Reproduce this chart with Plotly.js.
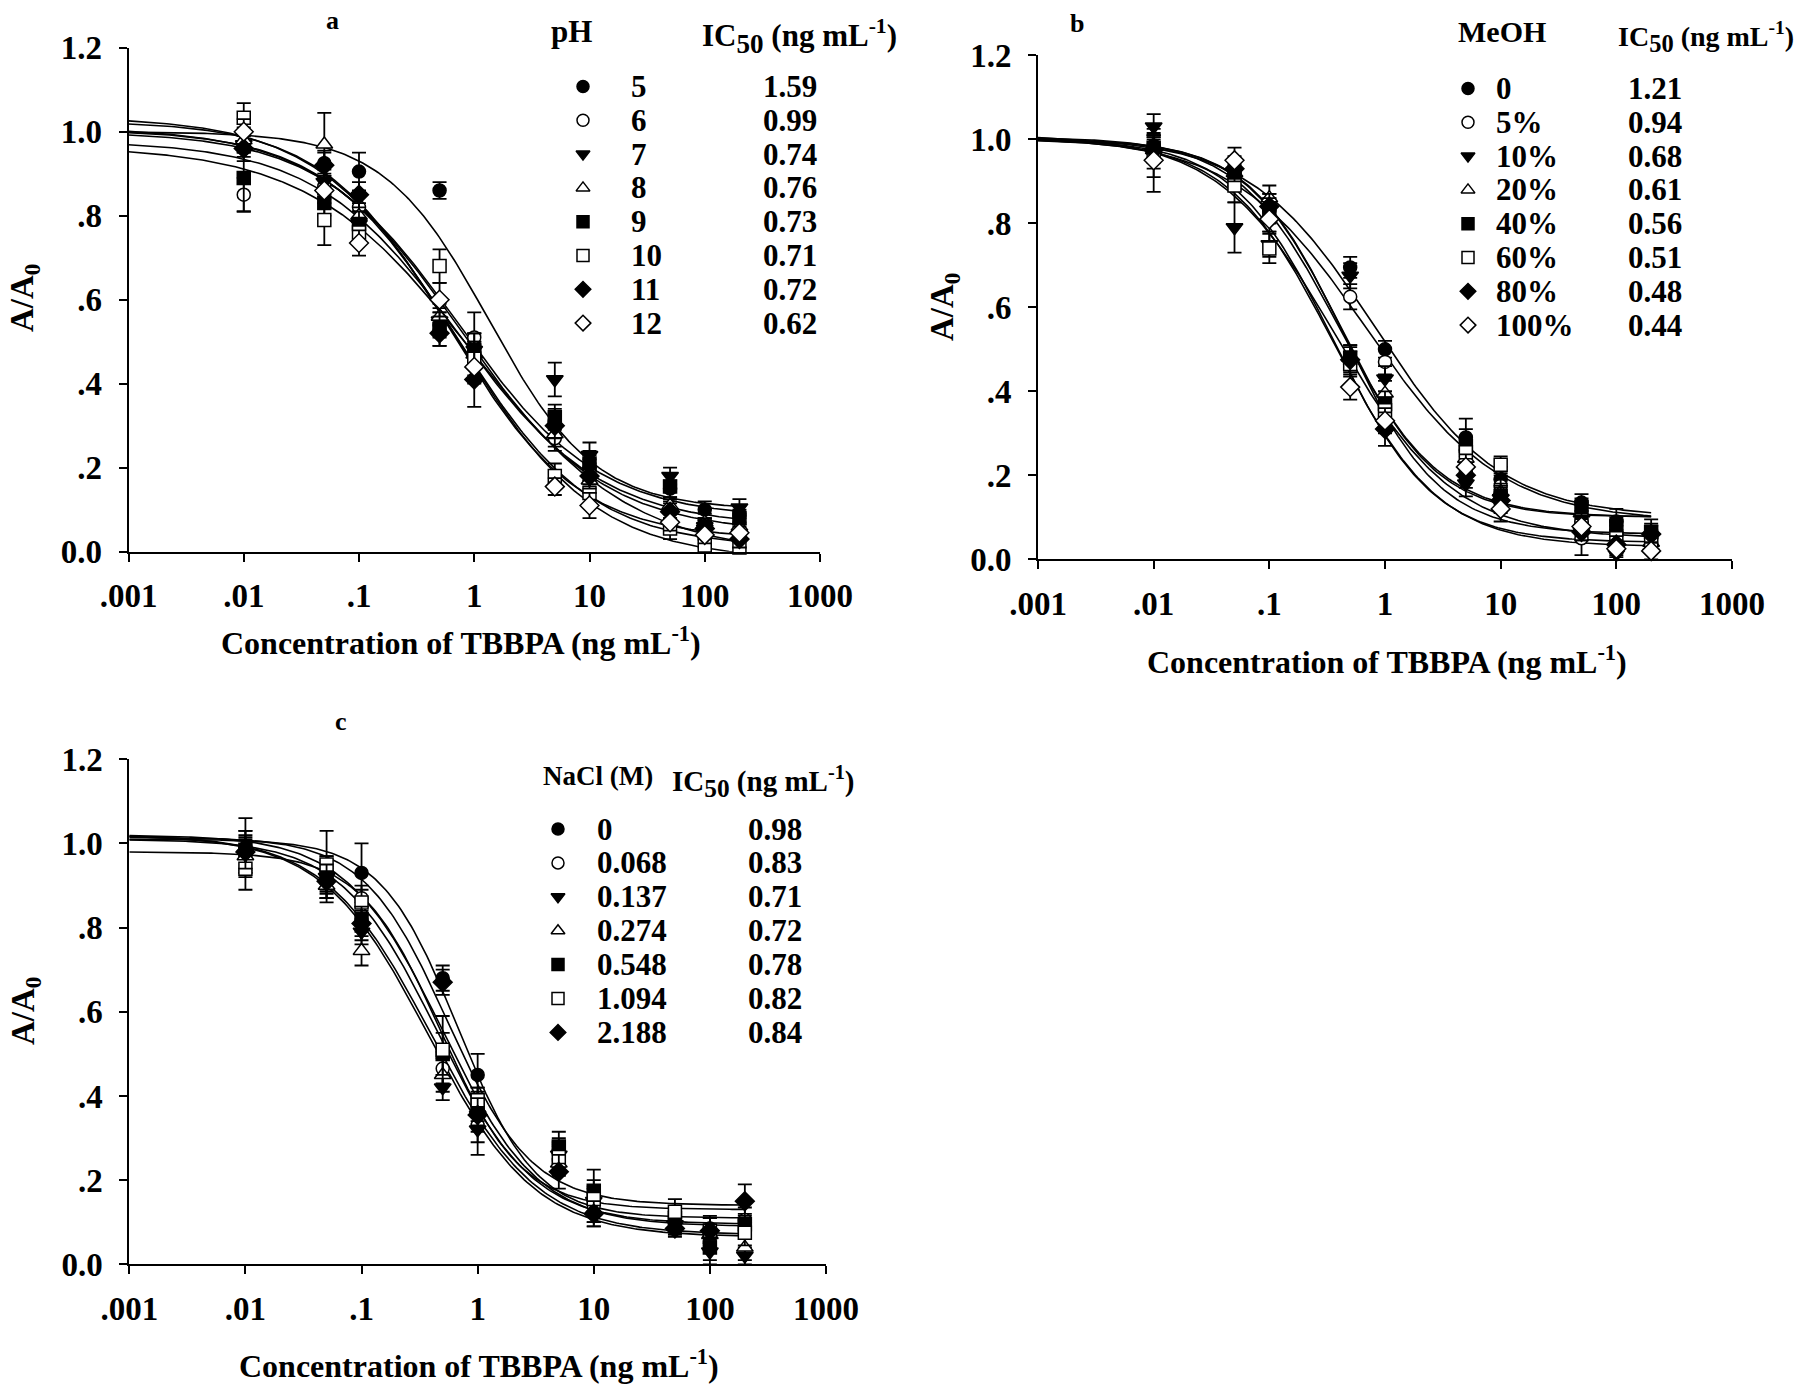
<!DOCTYPE html>
<html>
<head>
<meta charset="utf-8">
<script src="https://cdn.plot.ly/plotly-3.0.1.min.js"></script>
<style>
body { margin: 0; background: #fff; }
#chart { width: 1800px; height: 1386px; }
</style>
</head>
<body>
<div id="chart"></div>
<script>
// TBBPA inhibition curves: effect of pH (a), MeOH (b) and NaCl (c)

const conc = [0.01, 0.05, 0.1, 0.5, 1, 5, 10, 50, 100, 200];

// ---- panel a: pH ----
const phLabels = ['5', '6', '7', '8', '9', '10', '11', '12'];
const phIC50 = ['1.59', '0.99', '0.74', '0.76', '0.73', '0.71', '0.72', '0.62'];
const phValues = [
    [0.97, 0.925, 0.905, 0.86, 0.49, 0.31, 0.20, 0.15, 0.10, 0.09],
    [0.85, 0.87, 0.82, 0.54, 0.51, 0.27, 0.19, 0.10, 0.03, 0.03],
    [0.97, 0.88, 0.78, 0.55, 0.48, 0.41, 0.23, 0.18, 0.06, 0.105],
    [0.98, 0.97, 0.80, 0.56, 0.47, 0.28, 0.17, 0.11, 0.07, 0.06],
    [0.89, 0.83, 0.78, 0.53, 0.48, 0.32, 0.21, 0.155, 0.06, 0.08],
    [1.033, 0.79, 0.76, 0.68, 0.46, 0.18, 0.14, 0.055, 0.015, 0.01],
    [0.96, 0.92, 0.85, 0.52, 0.41, 0.30, 0.18, 0.095, 0.055, 0.03],
    [1.00, 0.86, 0.735, 0.60, 0.44, 0.155, 0.11, 0.07, 0.04, 0.045]
];
const phErrors = [
    [0.02, 0.03, 0.045, 0.02, 0.03, 0.03, 0.03, 0.02, 0.02, 0.02],
    [0.04, 0.03, 0.03, 0.03, 0.06, 0.03, 0.03, 0.02, 0.02, 0.02],
    [0.03, 0.03, 0.03, 0.03, 0.04, 0.04, 0.03, 0.02, 0.02, 0.02],
    [0.03, 0.075, 0.03, 0.03, 0.03, 0.03, 0.03, 0.02, 0.02, 0.02],
    [0.08, 0.03, 0.03, 0.04, 0.04, 0.03, 0.03, 0.03, 0.02, 0.02],
    [0.035, 0.06, 0.03, 0.04, 0.04, 0.03, 0.03, 0.025, 0.02, 0.02],
    [0.03, 0.03, 0.03, 0.03, 0.065, 0.03, 0.03, 0.02, 0.02, 0.02],
    [0.03, 0.03, 0.03, 0.04, 0.04, 0.02, 0.03, 0.02, 0.02, 0.02]
];
// four-parameter logistic fits (top, bottom, midpoint, slope)
const phTop = [1.0, 0.966, 1.0, 1.01, 0.978, 1.035, 1.005, 1.025];
const phBottom = [0.10, -0.01, 0.08, 0.045, 0.06, -0.02, 0.01, 0.03];
const phMid = [1.35, 0.95, 0.74, 0.76, 0.73, 0.71, 0.72, 0.62];
const phSlope = [0.95, 0.62, 0.72, 0.70, 0.70, 0.72, 0.75, 0.78];

// ---- panel b: MeOH ----
const meohLabels = ['0', '5%', '10%', '20%', '40%', '60%', '80%', '100%'];
const meohIC50 = ['1.21', '0.94', '0.68', '0.61', '0.56', '0.51', '0.48', '0.44'];
const meohValues = [
    [0.985, 0.92, 0.84, 0.695, 0.50, 0.29, 0.19, 0.135, 0.09, 0.065],
    [0.97, 0.91, 0.83, 0.625, 0.47, 0.26, 0.175, 0.05, 0.06, 0.05],
    [1.03, 0.79, 0.75, 0.675, 0.43, 0.18, 0.145, 0.065, 0.012, 0.015],
    [0.975, 0.92, 0.86, 0.48, 0.395, 0.24, 0.16, 0.11, 0.04, 0.04],
    [0.98, 0.92, 0.83, 0.48, 0.37, 0.27, 0.15, 0.125, 0.08, 0.065],
    [0.96, 0.89, 0.74, 0.465, 0.355, 0.255, 0.225, 0.08, 0.05, 0.045],
    [0.975, 0.93, 0.84, 0.475, 0.31, 0.20, 0.14, 0.065, 0.035, 0.06],
    [0.95, 0.95, 0.81, 0.41, 0.33, 0.22, 0.12, 0.078, 0.025, 0.02]
];
const meohErrors = [
    [0.03, 0.03, 0.03, 0.025, 0.02, 0.045, 0.03, 0.02, 0.03, 0.02],
    [0.04, 0.03, 0.03, 0.03, 0.03, 0.03, 0.025, 0.04, 0.03, 0.02],
    [0.03, 0.06, 0.03, 0.03, 0.03, 0.03, 0.03, 0.02, 0.02, 0.02],
    [0.03, 0.03, 0.03, 0.03, 0.03, 0.03, 0.03, 0.02, 0.03, 0.02],
    [0.03, 0.03, 0.03, 0.03, 0.03, 0.04, 0.03, 0.02, 0.02, 0.03],
    [0.05, 0.04, 0.035, 0.03, 0.03, 0.03, 0.02, 0.02, 0.03, 0.02],
    [0.03, 0.03, 0.03, 0.03, 0.04, 0.03, 0.03, 0.02, 0.02, 0.02],
    [0.075, 0.03, 0.03, 0.03, 0.03, 0.03, 0.03, 0.02, 0.02, 0.02]
];
const meohTop = [1.005, 1.005, 1.0, 1.0, 1.005, 1.01, 1.0, 1.0];
const meohBottom = [0.10, 0.09, 0.06, 0.10, 0.10, 0.05, 0.04, 0.03];
const meohMid = [0.82, 0.70, 0.45, 0.42, 0.40, 0.38, 0.36, 0.36];
const meohSlope = [0.80, 0.75, 1.05, 1.05, 1.0, 0.85, 1.0, 0.95];

// ---- panel c: NaCl ----
const naclLabels = ['0', '0.068', '0.137', '0.274', '0.548', '1.094', '2.188'];
const naclIC50 = ['0.98', '0.83', '0.71', '0.72', '0.78', '0.82', '0.84'];
const naclValues = [
    [0.99, 0.915, 0.93, 0.68, 0.45, 0.27, 0.15, 0.105, 0.085, 0.10],
    [0.98, 0.93, 0.87, 0.465, 0.33, 0.25, 0.14, 0.10, 0.075, 0.105],
    [0.975, 0.92, 0.79, 0.42, 0.32, 0.26, 0.15, 0.095, 0.03, 0.02],
    [0.97, 0.90, 0.745, 0.45, 0.37, 0.24, 0.13, 0.09, 0.07, 0.04],
    [0.985, 0.92, 0.82, 0.50, 0.38, 0.28, 0.175, 0.11, 0.04, 0.095],
    [0.94, 0.95, 0.86, 0.51, 0.39, 0.255, 0.155, 0.125, 0.08, 0.075],
    [0.98, 0.91, 0.81, 0.67, 0.355, 0.22, 0.12, 0.085, 0.08, 0.15]
];
const naclErrors = [
    [0.07, 0.03, 0.07, 0.03, 0.05, 0.03, 0.03, 0.02, 0.03, 0.02],
    [0.05, 0.04, 0.03, 0.04, 0.04, 0.03, 0.04, 0.02, 0.02, 0.03],
    [0.04, 0.05, 0.03, 0.03, 0.06, 0.03, 0.05, 0.02, 0.03, 0.02],
    [0.04, 0.04, 0.035, 0.04, 0.04, 0.03, 0.04, 0.02, 0.02, 0.03],
    [0.045, 0.04, 0.03, 0.05, 0.04, 0.035, 0.05, 0.02, 0.03, 0.02],
    [0.05, 0.08, 0.03, 0.08, 0.03, 0.03, 0.03, 0.03, 0.03, 0.03],
    [0.04, 0.04, 0.04, 0.03, 0.04, 0.04, 0.03, 0.02, 0.03, 0.04]
];
const naclTop = [1.01, 1.02, 1.02, 1.02, 1.01, 0.98, 1.015];
const naclBottom = [0.11, 0.09, 0.065, 0.07, 0.095, 0.13, 0.14];
const naclMid = [0.68, 0.50, 0.38, 0.40, 0.45, 0.48, 0.55];
const naclSlope = [1.3, 1.05, 0.95, 0.95, 1.05, 1.25, 1.2];

const xTickVals = [0.001, 0.01, 0.1, 1, 10, 100, 1000];
const xTickText = ['.001', '.01', '.1', '1', '10', '100', '1000'];
const yTickVals = [0, 0.2, 0.4, 0.6, 0.8, 1.0, 1.2];
const yTickText = ['0.0', '.2', '.4', '.6', '.8', '1.0', '1.2'];

const symbols = ['circle', 'circle', 'triangle-down', 'triangle-up', 'square', 'square', 'diamond', 'diamond'];
const fills = ['black', 'white', 'black', 'white', 'black', 'white', 'black', 'white'];

const W = 1800, H = 1386;
const FONT = 'Liberation Serif, Times New Roman, serif';
const LEG = 31;

function fourPL(x, top, bottom, mid, slope) {
    return bottom + (top - bottom) / (1 + Math.pow(x / mid, slope));
}

// smooth grid for the fitted curves, .001 to 200
const curveX = [];
for (let i = 0; i <= 240; i++) {
    curveX.push(Math.pow(10, -3 + i * (Math.log10(200) + 3) / 240));
}

const panels = [
    { xa: 'x', ya: 'y', values: phValues, errors: phErrors, top: phTop, bottom: phBottom, mid: phMid, slope: phSlope,
      labels: phLabels, ic50: phIC50, header: 'pH',
      legend: { mark: 583, label: 629, value: 761, row0: 86.5, step: 33.8, headY: 32, headLabel: 549, headValue: 700,
                headSize: LEG, icSize: LEG } },
    { xa: 'x2', ya: 'y2', values: meohValues, errors: meohErrors, top: meohTop, bottom: meohBottom, mid: meohMid, slope: meohSlope,
      labels: meohLabels, ic50: meohIC50, header: 'MeOH',
      legend: { mark: 1468, label: 1494, value: 1626, row0: 88.5, step: 33.8, headY: 32, headLabel: 1456, headValue: 1616,
                headSize: 30, icSize: 28 } },
    { xa: 'x3', ya: 'y3', values: naclValues, errors: naclErrors, top: naclTop, bottom: naclBottom, mid: naclMid, slope: naclSlope,
      labels: naclLabels, ic50: naclIC50, header: 'NaCl (M)',
      legend: { mark: 558, label: 595, value: 746, row0: 829, step: 33.9, headY: 776, headLabel: 541, headValue: 670,
                headSize: 27, icSize: 29 } }
];

let data = [];
let annotations = [];
const legFont = { family: FONT, size: LEG, weight: 'bold', color: 'black' };

panels.forEach(p => {
    // fitted curves first, so the points sit on top
    p.values.forEach((_, i) => {
        data.push({
            x: curveX,
            y: curveX.map(x => fourPL(x, p.top[i], p.bottom[i], p.mid[i], p.slope[i])),
            xaxis: p.xa, yaxis: p.ya,
            type: 'scatter', mode: 'lines',
            line: { color: 'black', width: 1.6 },
            hoverinfo: 'skip', showlegend: false
        });
    });
    p.values.forEach((vals, i) => {
        data.push({
            x: conc, y: vals,
            xaxis: p.xa, yaxis: p.ya,
            type: 'scatter', mode: 'markers',
            error_y: { type: 'data', array: p.errors[i], color: 'black', thickness: 1.8, width: 7 },
            marker: { symbol: symbols[i], size: symbols[i] === 'circle' || symbols[i] === 'square' ? 13 : 14.5,
                      color: fills[i], line: { color: 'black', width: 1.5 } },
            cliponaxis: false, showlegend: false
        });
    });

    // hand-made legend table: symbol, label, IC50
    const L = p.legend;
    const rows = p.labels.map((_, i) => L.row0 + i * L.step);
    data.push({
        x: p.labels.map(() => L.mark), y: rows,
        xaxis: 'x4', yaxis: 'y4',
        type: 'scatter', mode: 'markers',
        marker: { symbol: symbols.slice(0, p.labels.length), size: 12, color: fills.slice(0, p.labels.length),
                  line: { color: 'black', width: 1.5 } },
        hoverinfo: 'skip', showlegend: false, cliponaxis: false
    });
    p.labels.forEach((lab, i) => {
        annotations.push({ xref: 'paper', yref: 'paper', x: L.label / W, y: 1 - rows[i] / H,
            xanchor: 'left', yanchor: 'middle', text: lab, showarrow: false, font: legFont });
        annotations.push({ xref: 'paper', yref: 'paper', x: L.value / W, y: 1 - rows[i] / H,
            xanchor: 'left', yanchor: 'middle', text: p.ic50[i], showarrow: false, font: legFont });
    });
    annotations.push({ xref: 'paper', yref: 'paper', x: L.headLabel / W, y: 1 - L.headY / H,
        xanchor: 'left', yanchor: 'middle', text: p.header, showarrow: false,
        font: Object.assign({}, legFont, { size: L.headSize }) });
    annotations.push({ xref: 'paper', yref: 'paper', x: L.headValue / W, y: 1 - (L.headY + 5) / H,
        xanchor: 'left', yanchor: 'middle',
        text: 'IC<sub><span style="font-size:125%">50</span></sub> (ng mL<sup>-1</sup>)',
        showarrow: false, font: Object.assign({}, legFont, { size: L.icSize }) });
});

// axis titles and panel letters
const xTitle = 'Concentration of TBBPA (ng mL<sup>-1</sup>)';
const yTitle = 'A/A<sub>0</sub>';
const xTitleFont = { family: FONT, size: 32, weight: 'bold', color: 'black' };
const yTitleFont = { family: FONT, size: 33, weight: 'bold', color: 'black' };
[[461, 641], [1387, 660], [479, 1364]].forEach(([cx, cy]) => {
    annotations.push({ xref: 'paper', yref: 'paper', x: cx / W, y: 1 - cy / H, xanchor: 'center', yanchor: 'middle',
        text: xTitle, showarrow: false, font: xTitleFont });
});
[[25, 298], [944, 307], [25, 1011]].forEach(([cx, cy]) => {
    annotations.push({ xref: 'paper', yref: 'paper', x: cx / W, y: 1 - cy / H, xanchor: 'center', yanchor: 'middle',
        text: yTitle, textangle: -90, showarrow: false, font: yTitleFont });
});
[['a', 332, 21], ['b', 1077, 23], ['c', 341, 721]].forEach(([t, cx, cy]) => {
    annotations.push({ xref: 'paper', yref: 'paper', x: cx / W, y: 1 - cy / H, xanchor: 'center', yanchor: 'middle',
        text: t, showarrow: false, font: { family: FONT, size: 26, weight: 'bold', color: 'black' } });
});

const tickFont = { family: FONT, size: 33, weight: 'bold', color: 'black' };
function xAxis(domain, anchor) {
    return {
        domain: domain, anchor: anchor, type: 'log', range: [-3, 3],
        tickvals: xTickVals, ticktext: xTickText, tickfont: tickFont,
        showline: true, linecolor: 'black', linewidth: 2, mirror: false,
        ticks: 'outside', ticklen: 8, tickwidth: 2, tickcolor: 'black',
        showgrid: false, zeroline: false, fixedrange: true, ticklabelstandoff: 6
    };
}
function yAxis(domain, anchor) {
    return {
        domain: domain, anchor: anchor, range: [0, 1.2],
        tickvals: yTickVals, ticktext: yTickText, tickfont: tickFont,
        showline: true, linecolor: 'black', linewidth: 2,
        ticks: 'outside', ticklen: 8, tickwidth: 2, tickcolor: 'black',
        showgrid: false, zeroline: false, fixedrange: true, ticklabelstandoff: 10
    };
}

const layout = {
    width: W, height: H,
    margin: { l: 0, r: 0, t: 0, b: 0 },
    paper_bgcolor: 'white', plot_bgcolor: 'rgba(0,0,0,0)',
    showlegend: false,
    xaxis: xAxis([128.5 / W, 820 / W], 'y'),
    yaxis: yAxis([1 - 551.7 / H, 1 - 47.7 / H], 'x'),
    xaxis2: xAxis([1038 / W, 1732 / W], 'y2'),
    yaxis2: yAxis([1 - 559.3 / H, 1 - 55.3 / H], 'x2'),
    xaxis3: xAxis([129.3 / W, 826 / W], 'y3'),
    yaxis3: yAxis([1 - 1264.3 / H, 1 - 759.3 / H], 'x3'),
    // page-sized overlay used only for the legend symbols
    xaxis4: { domain: [0, 1], range: [0, W], visible: false, anchor: 'y4', fixedrange: true },
    yaxis4: { domain: [0, 1], range: [H, 0], visible: false, anchor: 'x4', fixedrange: true },
    annotations: annotations
};

Plotly.newPlot('chart', data, layout, { staticPlot: true });
</script>
</body>
</html>
